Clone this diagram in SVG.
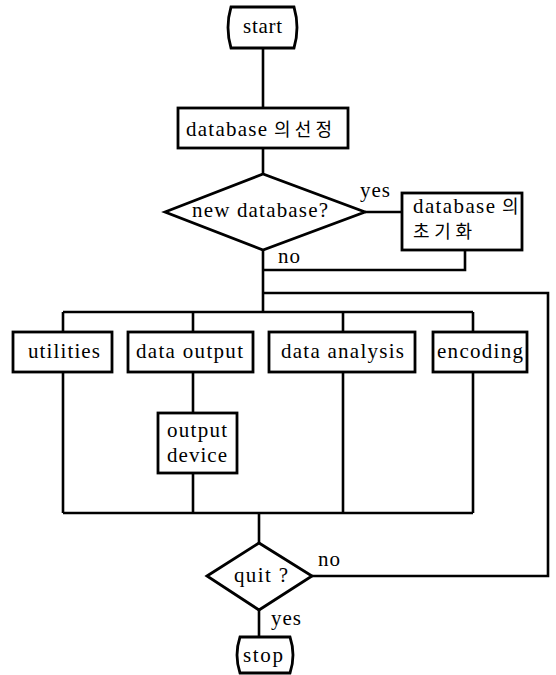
<svg xmlns="http://www.w3.org/2000/svg" width="556" height="675" viewBox="0 0 556 675">
<style>
.s{fill:#fff;stroke:#000;stroke-width:2.8;stroke-linejoin:miter}
.c{fill:none;stroke:#000;stroke-width:2.6}
.t{font-family:"Liberation Serif",serif;font-size:21px;fill:#000}
.k{font-family:"Noto Sans CJK KR",sans-serif;font-size:18px;fill:#000}
</style>
<rect width="556" height="675" fill="#fff"/>
<g id="connectors">
<polyline class="c" points="263,48 263,108"/>
<polyline class="c" points="263,148 263,174"/>
<polyline class="c" points="365,212 402,212"/>
<polyline class="c" points="465,250 465,270 263,270"/>
<polyline class="c" points="263,250 263,312"/>
<polyline class="c" points="63,312 473,312"/>
<polyline class="c" points="63,312 63,332"/>
<polyline class="c" points="193,312 193,332"/>
<polyline class="c" points="343,312 343,332"/>
<polyline class="c" points="473,312 473,332"/>
<polyline class="c" points="63,372 63,513"/>
<polyline class="c" points="193,372 193,413"/>
<polyline class="c" points="193,473 193,513"/>
<polyline class="c" points="343,372 343,513"/>
<polyline class="c" points="473,372 473,513"/>
<polyline class="c" points="63,513 473,513"/>
<polyline class="c" points="259,513 259,543"/>
<polyline class="c" points="312,576 548,576 548,293 263,293"/>
<polyline class="c" points="259,610 259,637"/>
<text class="t" x="360" y="197" textLength="30">yes</text>
<text class="t" x="278" y="263" textLength="22">no</text>
<text class="t" x="318" y="566" textLength="22">no</text>
<text class="t" x="271" y="625" textLength="30">yes</text>
</g>
<g id="start">
<path class="s" d="M231,7 L294,7 Q300,27.5 294,48 L231,48 Q225,27.5 231,7 Z"/>
<text class="t" x="243" y="33" textLength="39">start</text>
</g>
<g id="select-db">
<rect class="s" x="178" y="108" width="170" height="40"/>
<text class="t" x="186" y="136" textLength="81">database</text>
<text class="k" x="274" y="136" textLength="58">의선정</text>
</g>
<g id="new-db">
<polygon class="s" points="165,212 263,174 365,212 263,250"/>
<text class="t" x="192" y="217" textLength="136">new database?</text>
</g>
<g id="init-db">
<rect class="s" x="402" y="193" width="120" height="57"/>
<text class="t" x="413" y="213" textLength="82">database</text>
<text class="k" x="502" y="213">의</text>
<text class="k" x="413" y="238" textLength="59">초기화</text>
</g>
<g id="utilities">
<rect class="s" x="13" y="332" width="99" height="40"/>
<text class="t" x="28" y="358" textLength="72">utilities</text>
</g>
<g id="data-output">
<rect class="s" x="128" y="332" width="125" height="40"/>
<text class="t" x="136" y="358" textLength="107">data output</text>
</g>
<g id="data-analysis">
<rect class="s" x="269" y="332" width="146" height="40"/>
<text class="t" x="281" y="358" textLength="123">data analysis</text>
</g>
<g id="encoding">
<rect class="s" x="433" y="332" width="94" height="40"/>
<text class="t" x="437" y="358" textLength="86">encoding</text>
</g>
<g id="output-device">
<rect class="s" x="158" y="413" width="79" height="60"/>
<text class="t" x="167" y="437" textLength="60">output</text>
<text class="t" x="167" y="462" textLength="60">device</text>
</g>
<g id="quit">
<polygon class="s" points="207,576 259,543 312,576 259,610"/>
<text class="t" x="234" y="582" textLength="54">quit ?</text>
</g>
<g id="stop">
<path class="s" d="M240,637 L290,637 Q296,655 290,673 L240,673 Q234,655 240,637 Z"/>
<text class="t" x="243" y="662" textLength="40">stop</text>
</g>
</svg>
